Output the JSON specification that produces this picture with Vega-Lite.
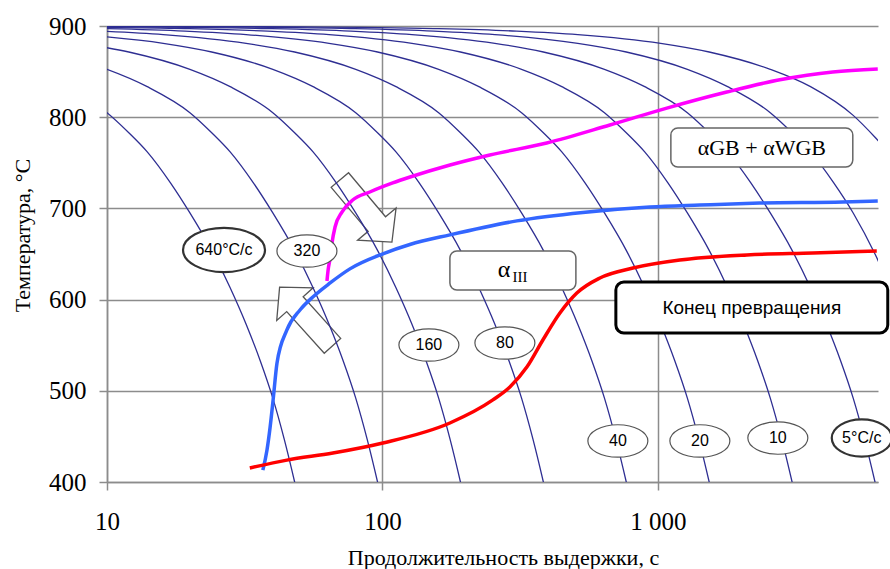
{
  "$schema": "https://vega.github.io/schema/vega-lite/v6.json",
  "width": 771,
  "height": 456,
  "autosize": "none",
  "padding": {"left": 107, "top": 26, "right": 12, "bottom": 87},
  "background": "white",
  "config": {"view": {"stroke": null}, "font": "Liberation Serif"},
  "datasets": {
    "cool": [
      {"c":0,"t":5,"T":852.5},{"c":0,"t":7,"T":833.5},{"c":0,"t":10,"T":805},{"c":0,"t":12,"T":783},{"c":0,"t":14,"T":762},{"c":0,"t":17,"T":728},{"c":0,"t":20,"T":695},{"c":0,"t":24,"T":654},{"c":0,"t":28,"T":613},{"c":0,"t":32,"T":573},{"c":0,"t":36,"T":533},{"c":0,"t":40,"T":492},{"c":0,"t":44,"T":447},{"c":0,"t":48,"T":400},{"c":0,"t":52,"T":353},
      {"c":1,"t":6,"T":871.5},{"c":1,"t":10,"T":852.5},{"c":1,"t":14,"T":833.5},{"c":1,"t":20,"T":805},{"c":1,"t":24,"T":783},{"c":1,"t":28,"T":762},{"c":1,"t":34,"T":728},{"c":1,"t":40,"T":695},{"c":1,"t":48,"T":654},{"c":1,"t":56,"T":613},{"c":1,"t":64,"T":573},{"c":1,"t":72,"T":533},{"c":1,"t":80,"T":492},{"c":1,"t":88,"T":447},{"c":1,"t":96,"T":400},{"c":1,"t":104,"T":353},
      {"c":2,"t":8,"T":881},{"c":2,"t":12,"T":871.5},{"c":2,"t":20,"T":852.5},{"c":2,"t":28,"T":833.5},{"c":2,"t":40,"T":805},{"c":2,"t":48,"T":783},{"c":2,"t":56,"T":762},{"c":2,"t":68,"T":728},{"c":2,"t":80,"T":695},{"c":2,"t":96,"T":654},{"c":2,"t":112,"T":613},{"c":2,"t":128,"T":573},{"c":2,"t":144,"T":533},{"c":2,"t":160,"T":492},{"c":2,"t":176,"T":447},{"c":2,"t":192,"T":400},{"c":2,"t":208,"T":353},
      {"c":3,"t":8,"T":890.6},{"c":3,"t":16,"T":881},{"c":3,"t":24,"T":871.5},{"c":3,"t":40,"T":852.5},{"c":3,"t":56,"T":833.5},{"c":3,"t":80,"T":805},{"c":3,"t":96,"T":783},{"c":3,"t":112,"T":762},{"c":3,"t":136,"T":728},{"c":3,"t":160,"T":695},{"c":3,"t":192,"T":654},{"c":3,"t":224,"T":613},{"c":3,"t":256,"T":573},{"c":3,"t":288,"T":533},{"c":3,"t":320,"T":492},{"c":3,"t":352,"T":447},{"c":3,"t":384,"T":400},{"c":3,"t":416,"T":353},
      {"c":4,"t":9.6,"T":894.4},{"c":4,"t":16,"T":890.6},{"c":4,"t":32,"T":881},{"c":4,"t":48,"T":871.5},{"c":4,"t":80,"T":852.5},{"c":4,"t":112,"T":833.5},{"c":4,"t":160,"T":805},{"c":4,"t":192,"T":783},{"c":4,"t":224,"T":762},{"c":4,"t":272,"T":728},{"c":4,"t":320,"T":695},{"c":4,"t":384,"T":654},{"c":4,"t":448,"T":613},{"c":4,"t":512,"T":573},{"c":4,"t":576,"T":533},{"c":4,"t":640,"T":492},{"c":4,"t":704,"T":447},{"c":4,"t":768,"T":400},{"c":4,"t":832,"T":353},
      {"c":5,"t":9.6,"T":897.2},{"c":5,"t":19.2,"T":894.4},{"c":5,"t":32,"T":890.6},{"c":5,"t":64,"T":881},{"c":5,"t":96,"T":871.5},{"c":5,"t":160,"T":852.5},{"c":5,"t":224,"T":833.5},{"c":5,"t":320,"T":805},{"c":5,"t":384,"T":783},{"c":5,"t":448,"T":762},{"c":5,"t":544,"T":728},{"c":5,"t":640,"T":695},{"c":5,"t":768,"T":654},{"c":5,"t":896,"T":613},{"c":5,"t":1024,"T":573},{"c":5,"t":1152,"T":533},{"c":5,"t":1280,"T":492},{"c":5,"t":1408,"T":447},{"c":5,"t":1536,"T":400},{"c":5,"t":1664,"T":353},
      {"c":6,"t":6.4,"T":899.1},{"c":6,"t":19.2,"T":897.2},{"c":6,"t":38.4,"T":894.4},{"c":6,"t":64,"T":890.6},{"c":6,"t":128,"T":881},{"c":6,"t":192,"T":871.5},{"c":6,"t":320,"T":852.5},{"c":6,"t":448,"T":833.5},{"c":6,"t":640,"T":805},{"c":6,"t":768,"T":783},{"c":6,"t":896,"T":762},{"c":6,"t":1088,"T":728},{"c":6,"t":1280,"T":695},{"c":6,"t":1536,"T":654},{"c":6,"t":1792,"T":613},{"c":6,"t":2048,"T":573},{"c":6,"t":2304,"T":533},{"c":6,"t":2560,"T":492},{"c":6,"t":2816,"T":447},{"c":6,"t":3072,"T":400},{"c":6,"t":3328,"T":353},
      {"c":7,"t":3.84,"T":899.7},{"c":7,"t":12.8,"T":899.1},{"c":7,"t":38.4,"T":897.2},{"c":7,"t":76.8,"T":894.4},{"c":7,"t":128,"T":890.6},{"c":7,"t":256,"T":881},{"c":7,"t":384,"T":871.5},{"c":7,"t":640,"T":852.5},{"c":7,"t":896,"T":833.5},{"c":7,"t":1280,"T":805},{"c":7,"t":1536,"T":783},{"c":7,"t":1792,"T":762},{"c":7,"t":2176,"T":728},{"c":7,"t":2560,"T":695},{"c":7,"t":3072,"T":654},{"c":7,"t":3584,"T":613},{"c":7,"t":4096,"T":573},{"c":7,"t":4608,"T":533},{"c":7,"t":5120,"T":492},{"c":7,"t":5632,"T":447},{"c":7,"t":6144,"T":400},{"c":7,"t":6656,"T":353},
      {"c":8,"t":2.56,"T":899.9},{"c":8,"t":7.68,"T":899.7},{"c":8,"t":25.6,"T":899.1},{"c":8,"t":76.8,"T":897.2},{"c":8,"t":153.6,"T":894.4},{"c":8,"t":256,"T":890.6},{"c":8,"t":512,"T":881},{"c":8,"t":768,"T":871.5},{"c":8,"t":1280,"T":852.5},{"c":8,"t":1792,"T":833.5},{"c":8,"t":2560,"T":805},{"c":8,"t":3072,"T":783},{"c":8,"t":3584,"T":762},{"c":8,"t":4352,"T":728},{"c":8,"t":5120,"T":695},{"c":8,"t":6144,"T":650},{"c":8,"t":7168,"T":605},
      {"c":9,"t":5.12,"T":899.9},{"c":9,"t":15.36,"T":899.7},{"c":9,"t":51.2,"T":899.1},{"c":9,"t":153.6,"T":897.2},{"c":9,"t":307.2,"T":894.4},{"c":9,"t":512,"T":890.6},{"c":9,"t":1024,"T":881},{"c":9,"t":1536,"T":871.5},{"c":9,"t":2560,"T":852.5},{"c":9,"t":3584,"T":833.5},{"c":9,"t":5120,"T":802},{"c":9,"t":6144,"T":778},{"c":9,"t":7168,"T":755}
    ],
    "curves": [
      {"s":"pink","t":62.9,"T":620.4},{"s":"pink","t":63.5,"T":632.5},{"s":"pink","t":64.6,"T":645.6},{"s":"pink","t":65.6,"T":662},{"s":"pink","t":67.3,"T":679.6},{"s":"pink","t":71.3,"T":696},{"s":"pink","t":78,"T":709.2},{"s":"pink","t":90,"T":718},{"s":"pink","t":109,"T":727.9},{"s":"pink","t":126,"T":734.4},{"s":"pink","t":176,"T":747.6},{"s":"pink","t":245.5,"T":758.6},{"s":"pink","t":395,"T":771.7},{"s":"pink","t":669.6,"T":791.4},{"s":"pink","t":1078,"T":810},{"s":"pink","t":1780,"T":827.6},{"s":"pink","t":2773,"T":841},{"s":"pink","t":4317,"T":849.6},{"s":"pink","t":6287,"T":852.8},
      {"s":"blue","t":36.8,"T":413},{"s":"blue","t":38.1,"T":435},{"s":"blue","t":39.1,"T":460},{"s":"blue","t":40.1,"T":490},{"s":"blue","t":41.4,"T":530},{"s":"blue","t":45,"T":566.7},{"s":"blue","t":50.2,"T":588.6},{"s":"blue","t":55.9,"T":602.9},{"s":"blue","t":64.4,"T":618},{"s":"blue","t":76.2,"T":633.7},{"s":"blue","t":100.4,"T":650.2},{"s":"blue","t":125.8,"T":660.4},{"s":"blue","t":175.8,"T":671},{"s":"blue","t":307.7,"T":686.3},{"s":"blue","t":534,"T":695.5},{"s":"blue","t":935,"T":701.5},{"s":"blue","t":1421,"T":703.7},{"s":"blue","t":2344,"T":705.9},{"s":"blue","t":4694,"T":707},{"s":"blue","t":6287,"T":708.1},
      {"s":"red","t":33,"T":415.4},{"s":"red","t":45,"T":424},{"s":"red","t":66.1,"T":431.8},{"s":"red","t":100.4,"T":442.8},{"s":"red","t":175.8,"T":464.7},{"s":"red","t":251.8,"T":490},{"s":"red","t":290.3,"T":504.2},{"s":"red","t":334.5,"T":526},{"s":"red","t":382.4,"T":555.7},{"s":"red","t":441,"T":585.3},{"s":"red","t":508,"T":607.2},{"s":"red","t":616,"T":623.7},{"s":"red","t":812,"T":634.6},{"s":"red","t":1202,"T":643.4},{"s":"red","t":2104,"T":649},{"s":"red","t":3652,"T":651.1},{"s":"red","t":6235,"T":653.3}
    ],
    "thinBoxes": [
      {"t":1115,"t2":5103,"T":788.2,"T2":745.4},
      {"t":175.8,"t2":504,"T":653.3,"T2":610.5}
    ],
    "endBox": [{"t":704,"t2":6836,"T":619.3,"T2":563.4}],
    "thinEll": [
      {"t":53.2,"T":653.3,"label":"320"},
      {"t":147.5,"T":550.2,"label":"160"},
      {"t":278.4,"T":552.4,"label":"80"},
      {"t":715.9,"T":445,"label":"40"},
      {"t":1421,"T":445,"label":"20"},
      {"t":2727,"T":448.2,"label":"10"}
    ],
    "ell640": [{"t":26.6,"T":654.4,"label":"640°C/c"}],
    "ell5": [{"t":5500,"T":448.2,"label":"5°C/c"}],
    "arrow1": [{"t":87.1,"T":697.1}],
    "arrow2": [{"t":52.8,"T":581.5}],
    "gb": [{"t":2385,"T":766,"label":"αGB + αWGB"}],
    "a3": [{"t":297.7,"T":632.5,"a":"α","sub":"III"}],
    "endLbl": [{"t":2194,"T":590.8,"label":"Конец превращения"}]
  },
  "encoding": {
    "x": {
      "field": "t", "type": "quantitative",
      "scale": {"type": "log", "domain": [10, 6300], "nice": false},
      "axis": {
        "values": [10, 100, 1000],
        "labelExpr": "datum.value == 1000 ? '1 000' : format(datum.value, 'd')",
        "grid": true, "gridColor": "#8c8c8c", "gridWidth": 1.5,
        "domainColor": "#8c8c8c", "domainWidth": 1.5,
        "tickColor": "#8c8c8c", "tickWidth": 1.5, "tickSize": 8,
        "labelFont": "Liberation Serif", "labelFontSize": 25, "labelColor": "#000",
        "labelPadding": 19, "labelFlush": false, "labelOverlap": false,
        "title": "Продолжительность выдержки, с",
        "titleFont": "Liberation Serif", "titleFontSize": 22, "titleFontWeight": "normal", "titleColor": "#000",
        "titleX": 396, "titleY": 82, "titleAlign": "center", "titleBaseline": "alphabetic"
      }
    },
    "y": {
      "field": "T", "type": "quantitative",
      "scale": {"domain": [400, 900], "nice": false, "zero": false},
      "axis": {
        "values": [400, 500, 600, 700, 800, 900],
        "grid": true, "gridColor": "#8c8c8c", "gridWidth": 1.5,
        "domainColor": "#8c8c8c", "domainWidth": 1.5,
        "tickColor": "#8c8c8c", "tickWidth": 1.5, "tickSize": 8,
        "labelFont": "Liberation Serif", "labelFontSize": 25, "labelColor": "#000",
        "labelPadding": 13, "labelFlush": false, "labelOverlap": false,
        "title": "Температура, °C",
        "titleFont": "Liberation Serif", "titleFontSize": 22, "titleFontWeight": "normal", "titleColor": "#000",
        "titleX": -85, "titleY": 209, "titleAngle": -90, "titleAlign": "center", "titleBaseline": "middle"
      }
    }
  },
  "layer": [
    {
      "data": {"name": "arrow1"},
      "mark": {"type": "point", "shape": "M -1 -0.28 L 0.42 -0.28 L 0.42 -0.62 L 1 0 L 0.42 0.62 L 0.42 0.28 L -1 0.28 Z", "size": 6561, "angle": 50, "filled": true, "fill": "white", "stroke": "#555", "strokeWidth": 1.3, "opacity": 1}
    },
    {
      "data": {"name": "arrow2"},
      "mark": {"type": "point", "shape": "M -1 -0.28 L 0.42 -0.28 L 0.42 -0.62 L 1 0 L 0.42 0.62 L 0.42 0.28 L -1 0.28 Z", "size": 6241, "angle": 228, "filled": true, "fill": "white", "stroke": "#555", "strokeWidth": 1.3, "opacity": 1}
    },
    {
      "data": {"name": "cool"},
      "mark": {"type": "line", "color": "#2e2e92", "strokeWidth": 1.3, "clip": true, "interpolate": "monotone"},
      "encoding": {"detail": {"field": "c", "type": "nominal"}}
    },
    {
      "data": {"name": "curves"},
      "mark": {"type": "line", "strokeWidth": 3.5, "clip": true, "interpolate": "monotone"},
      "encoding": {
        "color": {"field": "s", "type": "nominal", "scale": {"domain": ["pink", "blue", "red"], "range": ["#ff00ff", "#3366ff", "#ff0000"]}, "legend": null}
      }
    },
    {
      "data": {"name": "thinBoxes"},
      "mark": {"type": "rect", "fill": "white", "stroke": "#666", "strokeWidth": 1.5, "cornerRadius": 7},
      "encoding": {"x2": {"field": "t2"}, "y2": {"field": "T2"}}
    },
    {
      "data": {"name": "endBox"},
      "mark": {"type": "rect", "fill": "white", "stroke": "#000", "strokeWidth": 3, "cornerRadius": 8},
      "encoding": {"x2": {"field": "t2"}, "y2": {"field": "T2"}}
    },
    {
      "data": {"name": "thinEll"},
      "mark": {"type": "point", "shape": "M -1 0 C -1 -0.298 -0.552 -0.54 0 -0.54 C 0.552 -0.54 1 -0.298 1 0 C 1 0.298 0.552 0.54 0 0.54 C -0.552 0.54 -1 0.298 -1 0 Z", "size": 3600, "filled": true, "fill": "white", "stroke": "#555", "strokeWidth": 1.2, "opacity": 1}
    },
    {
      "data": {"name": "ell640"},
      "mark": {"type": "point", "shape": "M -1 0 C -1 -0.298 -0.552 -0.54 0 -0.54 C 0.552 -0.54 1 -0.298 1 0 C 1 0.298 0.552 0.54 0 0.54 C -0.552 0.54 -1 0.298 -1 0 Z", "size": 6724, "filled": true, "fill": "white", "stroke": "#333", "strokeWidth": 2.2, "opacity": 1}
    },
    {
      "data": {"name": "ell5"},
      "mark": {"type": "point", "shape": "M -1 0 C -1 -0.342 -0.552 -0.62 0 -0.62 C 0.552 -0.62 1 -0.342 1 0 C 1 0.342 0.552 0.62 0 0.62 C -0.552 0.62 -1 0.342 -1 0 Z", "size": 3600, "filled": true, "fill": "white", "stroke": "#333", "strokeWidth": 2.2, "opacity": 1}
    },
    {
      "data": {"name": "thinEll"},
      "mark": {"type": "text", "font": "Liberation Sans", "fontSize": 16, "color": "#000", "baseline": "middle", "align": "center"},
      "encoding": {"text": {"field": "label"}}
    },
    {
      "data": {"name": "ell640"},
      "mark": {"type": "text", "font": "Liberation Sans", "fontSize": 16, "color": "#000", "baseline": "middle", "align": "center"},
      "encoding": {"text": {"field": "label"}}
    },
    {
      "data": {"name": "ell5"},
      "mark": {"type": "text", "font": "Liberation Sans", "fontSize": 16, "color": "#000", "baseline": "middle", "align": "center"},
      "encoding": {"text": {"field": "label"}}
    },
    {
      "data": {"name": "gb"},
      "mark": {"type": "text", "font": "Liberation Serif", "fontSize": 22, "color": "#000", "baseline": "middle", "align": "center"},
      "encoding": {"text": {"field": "label"}}
    },
    {
      "data": {"name": "a3"},
      "mark": {"type": "text", "font": "Liberation Serif", "fontSize": 24, "color": "#000", "baseline": "alphabetic", "align": "center", "dx": -9, "dy": 7},
      "encoding": {"text": {"field": "a"}}
    },
    {
      "data": {"name": "a3"},
      "mark": {"type": "text", "font": "Liberation Serif", "fontSize": 15, "color": "#000", "baseline": "alphabetic", "align": "center", "dx": 7, "dy": 12},
      "encoding": {"text": {"field": "sub"}}
    },
    {
      "data": {"name": "endLbl"},
      "mark": {"type": "text", "font": "Liberation Sans", "fontSize": 19, "color": "#000", "baseline": "middle", "align": "center"},
      "encoding": {"text": {"field": "label"}}
    }
  ]
}
